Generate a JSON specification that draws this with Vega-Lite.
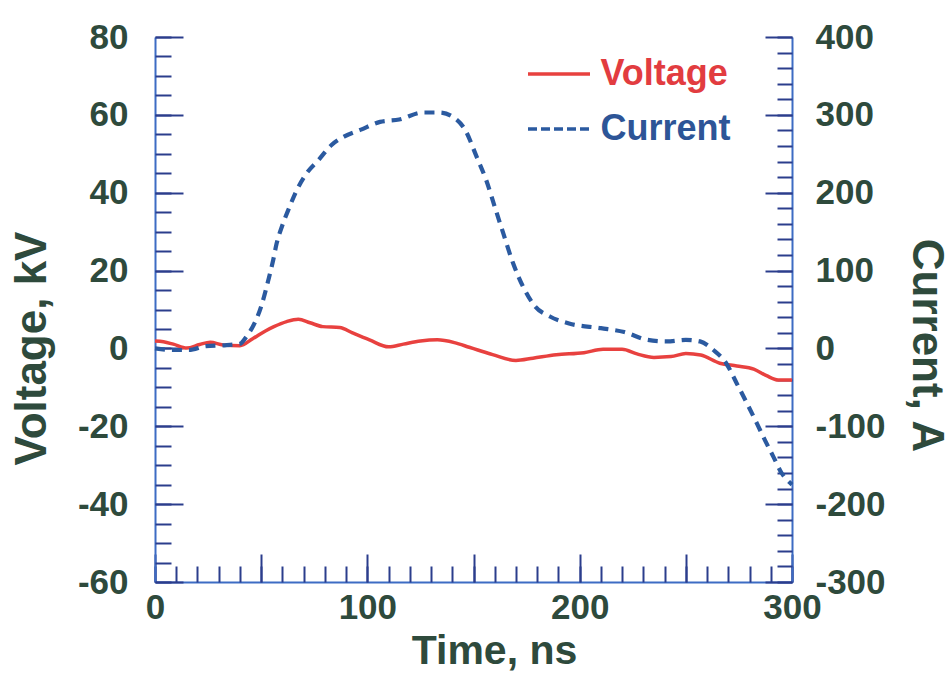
{
  "$schema": "https://vega.github.io/schema/vega-lite/v6.json",
  "width": 637,
  "height": 545,
  "autosize": {"type": "none"},
  "padding": {"left": 155, "top": 37, "right": 160, "bottom": 105},
  "background": "white",
  "datasets": {
    "voltage": [
      {"t": 0, "v": 1.9}, {"t": 4, "v": 1.7}, {"t": 8.6, "v": 1.1}, {"t": 15, "v": 0.1},
      {"t": 21, "v": 1.0}, {"t": 26, "v": 1.6}, {"t": 32, "v": 0.9}, {"t": 40, "v": 0.7},
      {"t": 46, "v": 2.5}, {"t": 52, "v": 4.5}, {"t": 56, "v": 5.6}, {"t": 62, "v": 6.9},
      {"t": 67.5, "v": 7.5}, {"t": 73, "v": 6.6}, {"t": 79, "v": 5.6}, {"t": 87, "v": 5.4},
      {"t": 93, "v": 4.0}, {"t": 101, "v": 2.2}, {"t": 110, "v": 0.4}, {"t": 117, "v": 1.1},
      {"t": 125, "v": 1.9}, {"t": 133, "v": 2.2}, {"t": 141, "v": 1.5}, {"t": 148, "v": 0.3},
      {"t": 152, "v": -0.4}, {"t": 159, "v": -1.6}, {"t": 170, "v": -3.1}, {"t": 178, "v": -2.5},
      {"t": 189, "v": -1.6}, {"t": 202, "v": -1.1}, {"t": 211, "v": -0.2}, {"t": 220, "v": -0.2},
      {"t": 227, "v": -1.4}, {"t": 235, "v": -2.3}, {"t": 243, "v": -2.1}, {"t": 250, "v": -1.3},
      {"t": 257, "v": -1.7}, {"t": 266, "v": -3.8}, {"t": 274, "v": -4.5}, {"t": 282, "v": -5.3},
      {"t": 288, "v": -7.0}, {"t": 293.5, "v": -8.1}, {"t": 300, "v": -8.1}
    ],
    "current": [
      {"t": 0, "i": 0}, {"t": 8.6, "i": -2}, {"t": 16, "i": -2}, {"t": 24, "i": 3},
      {"t": 32, "i": 4}, {"t": 40, "i": 6}, {"t": 43, "i": 15}, {"t": 47, "i": 33},
      {"t": 50, "i": 54}, {"t": 53.4, "i": 88}, {"t": 55.7, "i": 114}, {"t": 57.3, "i": 135},
      {"t": 59.7, "i": 156}, {"t": 62.8, "i": 178}, {"t": 66.7, "i": 203}, {"t": 71.4, "i": 225},
      {"t": 77, "i": 242}, {"t": 83, "i": 261}, {"t": 89, "i": 272}, {"t": 97, "i": 281},
      {"t": 106, "i": 291}, {"t": 115, "i": 294}, {"t": 126, "i": 303}, {"t": 134, "i": 303},
      {"t": 140.5, "i": 297}, {"t": 146, "i": 281}, {"t": 151.5, "i": 246}, {"t": 156, "i": 216},
      {"t": 160, "i": 182}, {"t": 164, "i": 148}, {"t": 168.7, "i": 109}, {"t": 173.4, "i": 79},
      {"t": 179, "i": 54}, {"t": 186, "i": 41}, {"t": 195, "i": 32}, {"t": 210, "i": 26},
      {"t": 221, "i": 21}, {"t": 232, "i": 11}, {"t": 241, "i": 9}, {"t": 250, "i": 11},
      {"t": 256.7, "i": 9}, {"t": 263, "i": -2}, {"t": 269, "i": -19}, {"t": 274, "i": -45},
      {"t": 278.7, "i": -70}, {"t": 283.4, "i": -96}, {"t": 287.3, "i": -118}, {"t": 291.2, "i": -139},
      {"t": 295.1, "i": -160}, {"t": 300, "i": -175}
    ]
  },
  "layer": [
    {
      "data": {"name": "voltage"},
      "mark": {"type": "line", "strokeWidth": 3.5, "interpolate": "monotone"},
      "encoding": {
        "x": {"field": "t", "type": "quantitative",
          "scale": {"domain": [0, 300], "nice": false, "zero": false},
          "axis": {"orient": "bottom", "values": [0, 100, 200, 300], "ticks": false, "tickSize": 0,
            "labelPadding": 8, "labelFlush": false, "labelOverlap": false,
            "title": "Time, ns", "titleX": 339, "titleY": 81, "titleBaseline": "alphabetic", "titleAlign": "center", "titleFontSize": 41}},
        "y": {"field": "v", "type": "quantitative",
          "scale": {"domain": [-60, 80], "nice": false, "zero": false},
          "axis": {"orient": "left", "values": [-60, -40, -20, 0, 20, 40, 60, 80], "ticks": false, "tickSize": 0,
            "labelExpr": "'' + datum.value",
            "labelPadding": 27, "labelOverlap": false, "labelFlush": false,
            "title": "Voltage, kV", "titleAngle": 270, "titleX": -110, "titleY": 311, "titleBaseline": "alphabetic", "titleAlign": "center", "titleFontSize": 44}},
        "color": {"datum": "Voltage", "type": "nominal",
          "scale": {"domain": ["Voltage", "Current"], "range": ["#e8413f", "#2b5aa0"]},
          "legend": {
            "orient": "none", "legendX": 407, "legendY": 19, "title": null, "padding": 0,
            "symbolType": "M-5.2,0H1", "symbolSize": 400, "symbolStrokeWidth": 3.5,
            "labelFont": "Liberation Sans", "labelFontWeight": "bold", "labelFontSize": 36,
            "labelOffset": 2.5, "rowPadding": 19,
            "encode": {
              "labels": {"update": {"fill": {"signal": "datum.value === 'Voltage' ? '#e23c40' : '#2d5597'"}}},
              "symbols": {"update": {"strokeDash": {"signal": "datum.value === 'Current' ? [9,4] : [1,0]"}, "fill": {"value": "transparent"}}}
            }
          }}
      }
    },
    {
      "data": {"name": "current"},
      "mark": {"type": "line", "strokeWidth": 4.2, "strokeDash": [10, 7], "interpolate": "monotone"},
      "encoding": {
        "x": {"field": "t", "type": "quantitative", "scale": {"domain": [0, 300], "nice": false, "zero": false}, "axis": null},
        "y": {"field": "i", "type": "quantitative",
          "scale": {"domain": [-300, 400], "nice": false, "zero": false},
          "axis": {"orient": "right", "values": [-300, -200, -100, 0, 100, 200, 300, 400], "ticks": false, "tickSize": 0,
            "labelExpr": "'' + datum.value",
            "labelPadding": 23, "labelOverlap": false, "labelFlush": false, "labelAlign": "left",
            "title": "Current, A", "titleAngle": 90, "titleX": 120, "titleY": 308, "titleBaseline": "alphabetic", "titleAlign": "center", "titleFontSize": 44}},
        "color": {"datum": "Current", "type": "nominal"}
      }
    },
    {
      "data": {"name": "voltage"},
      "mark": {"type": "line", "opacity": 0},
      "encoding": {
        "x": {"field": "t", "type": "quantitative", "scale": {"domain": [0, 300], "nice": false, "zero": false},
          "axis": {"orient": "bottom", "values": [0, 50, 100, 150, 200, 250, 300], "tickSize": -28, "labels": false, "domain": false, "title": null}},
        "y": {"field": "v", "type": "quantitative", "scale": {"domain": [-60, 80], "nice": false, "zero": false},
          "axis": {"orient": "left", "values": [-60, -40, -20, 0, 20, 40, 60, 80], "tickSize": -28, "labels": false, "domain": false, "title": null}}
      }
    },
    {
      "data": {"name": "voltage"},
      "mark": {"type": "line", "opacity": 0},
      "encoding": {
        "x": {"field": "t", "type": "quantitative", "scale": {"domain": [0, 300], "nice": false, "zero": false},
          "axis": {"orient": "bottom", "values": [0, 10, 20, 30, 40, 50, 60, 70, 80, 90, 100, 110, 120, 130, 140, 150, 160, 170, 180, 190, 200, 210, 220, 230, 240, 250, 260, 270, 280, 290, 300], "tickSize": -16, "labels": false, "domain": false, "title": null}},
        "y": {"field": "v", "type": "quantitative", "scale": {"domain": [-60, 80], "nice": false, "zero": false},
          "axis": {"orient": "left", "values": [-60, -55, -50, -45, -40, -35, -30, -25, -20, -15, -10, -5, 0, 5, 10, 15, 20, 25, 30, 35, 40, 45, 50, 55, 60, 65, 70, 75, 80], "tickSize": -16, "labels": false, "domain": false, "title": null}}
      }
    },
    {
      "data": {"name": "current"},
      "mark": {"type": "line", "opacity": 0},
      "encoding": {
        "x": {"field": "t", "type": "quantitative", "scale": {"domain": [0, 300], "nice": false, "zero": false}, "axis": null},
        "y": {"field": "i", "type": "quantitative", "scale": {"domain": [-300, 400], "nice": false, "zero": false},
          "axis": {"orient": "right", "values": [-300, -200, -100, 0, 100, 200, 300, 400], "tickSize": -27, "labels": false, "domain": false, "title": null}}
      }
    },
    {
      "data": {"name": "current"},
      "mark": {"type": "line", "opacity": 0},
      "encoding": {
        "x": {"field": "t", "type": "quantitative", "scale": {"domain": [0, 300], "nice": false, "zero": false}, "axis": null},
        "y": {"field": "i", "type": "quantitative", "scale": {"domain": [-300, 400], "nice": false, "zero": false},
          "axis": {"orient": "right", "values": [-300, -280, -260, -240, -220, -200, -180, -160, -140, -120, -100, -80, -60, -40, -20, 0, 20, 40, 60, 80, 100, 120, 140, 160, 180, 200, 220, 240, 260, 280, 300, 320, 340, 360, 380, 400], "tickSize": -15, "labels": false, "domain": false, "title": null}}
      }
    }
  ],
  "resolve": {"scale": {"y": "independent"}, "axis": {"x": "independent", "y": "independent"}},
  "config": {
    "view": {"stroke": null},
    "axis": {
      "grid": false,
      "labelFont": "Liberation Sans", "labelFontWeight": "bold", "labelFontSize": 35, "labelColor": "#2e4a3c",
      "titleFont": "Liberation Sans", "titleFontWeight": "bold", "titleColor": "#2e4a3c",
      "tickColor": "#2b3d8c", "tickWidth": 2,
      "domainColor": "#3d6cc4", "domainWidth": 2
    }
  }
}
